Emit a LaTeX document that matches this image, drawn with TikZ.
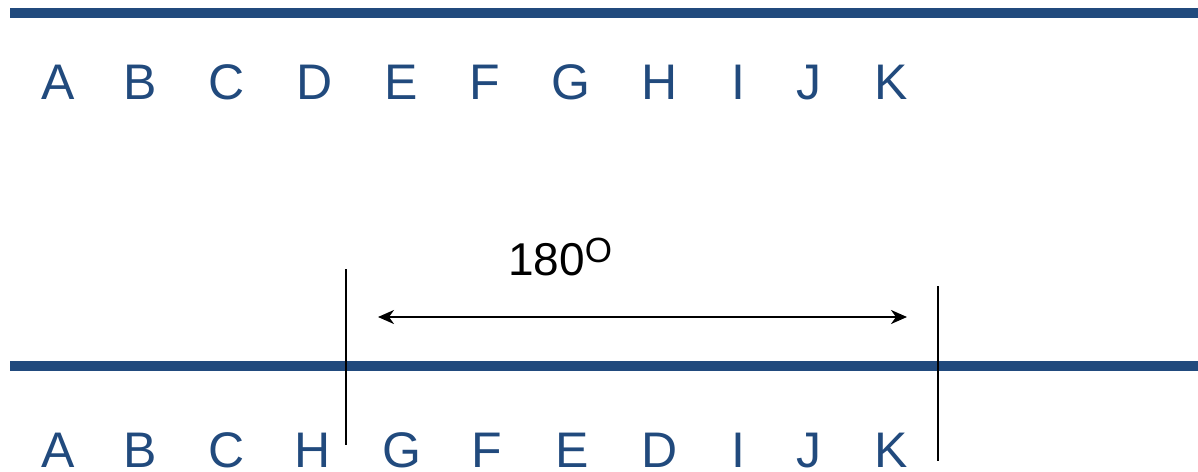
\documentclass[tikz,border=0pt]{standalone}
\usepackage{fontspec}
\setmainfont{Liberation Sans}
\usetikzlibrary{arrows.meta}
\definecolor{bandblue}{RGB}{33,74,125}
\begin{document}
\begin{tikzpicture}[x=1pt,y=-1pt,
  band/.style={draw=bandblue,line width=10pt},
  lab/.style={text=bandblue,anchor=base,inner sep=0pt,font=\fontsize{50}{60}\selectfont},
  cut/.style={draw=black,line width=2pt},
  span/.style={draw=black,line width=2pt,{Stealth[length=16pt,width=14pt,inset=5pt]}-{Stealth[length=16pt,width=14pt,inset=5pt]}}]
\useasboundingbox (0,0) rectangle (1198,471);
% the two bands
\coordinate (t0) at (10,13);
\coordinate (t1) at (1198,13);
\coordinate (b0) at (10,366);
\coordinate (b1) at (1198,366);
\path[band] (t0) -- (t1);
\path[band] (b0) -- (b1);
% original order
\foreach \l/\x in {A/58,B/140,C/227,D/315,E/401,F/485,G/571,H/660,I/738,J/809,K/891}
  \node[lab] (top\l) at (\x,99) {\l};
% order after the inversion
\foreach \l/\x in {A/58,B/140,C/227,H/313,G/402,F/487,E/572,D/660,I/738,J/809,K/891}
  \node[lab] (bot\l) at (\x,467) {\l};
% breakpoints
\coordinate (cutLa) at (346,269);
\coordinate (cutLb) at (346,445);
\coordinate (cutRa) at (938,286);
\coordinate (cutRb) at (938,461);
\path[cut] (cutLa) -- (cutLb);
\path[cut] (cutRa) -- (cutRb);
% rotation span
\coordinate (spanL) at (378,317);
\coordinate (spanR) at (907,317);
\path[span] (spanL) -- (spanR);
\node[anchor=base west,inner sep=0pt,font=\fontsize{46}{55}\selectfont] (angle) at (508,275)
  {180\raisebox{13pt}{\fontsize{35}{40}\selectfont O}};
\end{tikzpicture}
\end{document}
